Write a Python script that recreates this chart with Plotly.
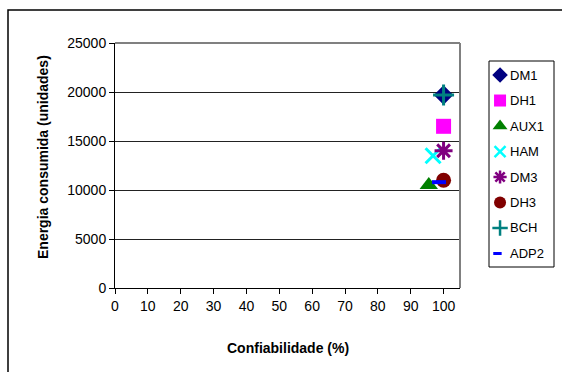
import plotly.graph_objects as go

# Series: reliability (%) vs. consumed energy (units)
series_names = ["DM1", "DH1", "AUX1", "HAM", "DM3", "DH3", "BCH", "ADP2"]
confiabilidade = [100, 100, 95.5, 96.8, 100, 100, 100, 98.6]
energia = [19700, 16500, 10500, 13500, 14000, 11000, 19700, 10800]

colors = ["#000080", "#FF00FF", "#008000", "#00FFFF", "#800080", "#800000", "#008080", "#0000FF"]
symbols = ["diamond", "square", "triangle-up", "x-thin-open", "asterisk-open",
           "circle", "cross-thin-open", "line-ew-open"]
sizes = [15, 15, 16, 15, 15, 15, 15, 10]
legend_sizes = [12, 12, 13, 11, 11, 12, 11, 6]
line_widths = [0, 0, 0, 3, 3, 0, 3, 4]
legend_line_widths = [0, 0, 0, 2.5, 2.5, 0, 2.5, 3]

x_ticks = list(range(0, 101, 10))
y_ticks = list(range(0, 25001, 5000))

# layout geometry (pixels)
W, H = 562, 372
ML, MT, MB = 115, 43, 84
plot_w = 345
paper_w = W - ML
paper_h = H - MT - MB
plot_frac = plot_w / paper_w


def px_x(px):
    return (px - ML) / paper_w


def px_y(py):
    return (H - MB - py) / paper_h


# legend box in pixels
LB_L, LB_R, LB_T, LB_B = 489, 554, 61, 267
n = len(series_names)

fig = go.Figure()
for i, name in enumerate(series_names):
    fig.add_trace(go.Scatter(
        x=[confiabilidade[i]], y=[energia[i]], mode="markers", name=name,
        marker=dict(symbol=symbols[i], size=sizes[i], color=colors[i],
                    line=dict(width=line_widths[i], color=colors[i])),
        hoverinfo="x+y+name",
    ))

# legend entries drawn on their own small axes
for i, name in enumerate(series_names):
    fig.add_trace(go.Scatter(
        x=[0.17 if name != "ADP2" else 0.13], y=[i], mode="markers", xaxis="x2", yaxis="y2",
        marker=dict(symbol=symbols[i], size=legend_sizes[i], color=colors[i],
                    line=dict(width=legend_line_widths[i], color=colors[i])),
        hoverinfo="skip",
    ))

font_family = "Liberation Sans, Arial, sans-serif"

legend_ann = [
    dict(text=name, xref="x2", yref="y2", x=0.29, y=i, xanchor="left", yanchor="middle",
         showarrow=False, font=dict(size=13))
    for i, name in enumerate(series_names)
]

fig.update_layout(
    width=W, height=H,
    margin=dict(l=ML, r=0, t=MT, b=MB),
    paper_bgcolor="white", plot_bgcolor="white",
    font=dict(family=font_family, size=14, color="black"),
    showlegend=False,
    xaxis=dict(domain=[0, plot_frac], range=[0, 105], tickvals=x_ticks, showgrid=False,
               zeroline=False, showline=True, linecolor="black", linewidth=1,
               ticks="outside", ticklen=5, tickcolor="black"),
    yaxis=dict(range=[0, 25000], tickvals=y_ticks, tickformat="d",
               showgrid=True, gridcolor="#222222", gridwidth=1, zeroline=False,
               showline=True, linecolor="black", linewidth=1,
               ticks="outside", ticklen=5, tickcolor="black"),
    xaxis2=dict(domain=[px_x(LB_L), px_x(LB_R)], range=[0, 1], anchor="y2",
                visible=False, fixedrange=True),
    yaxis2=dict(domain=[px_y(LB_B), px_y(LB_T)], range=[n - 0.47, -0.55], anchor="x2",
                visible=False, fixedrange=True),
    annotations=[
        dict(text="<b>Confiabilidade (%)</b>", xref="paper", yref="paper",
             x=px_x(288), y=px_y(348), xanchor="center", yanchor="middle",
             showarrow=False, font=dict(size=14)),
        dict(text="<b>Energia consumida (unidades)</b>", xref="paper", yref="paper",
             x=px_x(43), y=px_y(157), xanchor="center", yanchor="middle", textangle=-90,
             showarrow=False, font=dict(size=14)),
    ] + legend_ann,
    shapes=[
        # plot area top and right borders
        dict(type="line", xref="paper", yref="paper", x0=0, x1=plot_frac, y0=1, y1=1,
             line=dict(color="#808080", width=2)),
        dict(type="line", xref="paper", yref="paper", x0=plot_frac, x1=plot_frac, y0=0, y1=1,
             line=dict(color="#808080", width=2)),
        # legend box
        dict(type="rect", xref="paper", yref="paper",
             x0=px_x(LB_L), x1=px_x(LB_R), y0=px_y(LB_B), y1=px_y(LB_T),
             line=dict(color="black", width=1), layer="below"),
        # outer chart frame
        dict(type="rect", xref="paper", yref="paper",
             x0=px_x(8), x1=px_x(640), y0=px_y(460), y1=px_y(10),
             line=dict(color="black", width=1.5), layer="below"),
    ],
)

fig.write_html("out.html")
